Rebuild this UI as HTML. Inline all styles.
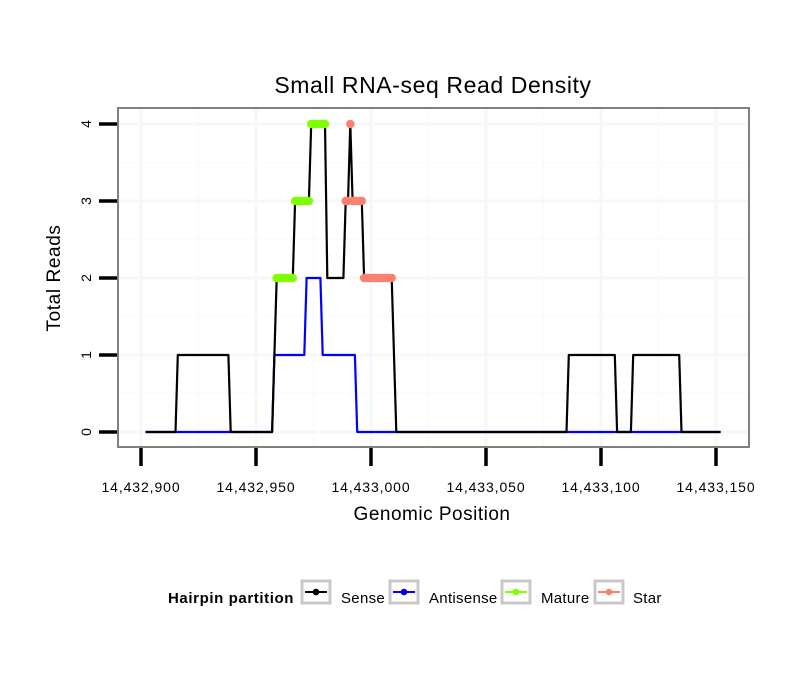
<!DOCTYPE html>
<html><head><meta charset="utf-8"><style>
body{margin:0;background:#fff;}
svg text{font-family:"Liberation Sans",sans-serif;}
</style></head><body>
<svg id="chart" width="810" height="690" xmlns="http://www.w3.org/2000/svg">
<rect width="810" height="690" fill="#fff"/>
<text x="433" y="93" font-size="23" letter-spacing="0.6" text-anchor="middle">Small RNA-seq Read Density</text>
<g id="grid"></g>
<g id="series"></g>
<rect x="118" y="108" width="631" height="339" fill="none" stroke="#808080" stroke-width="2"/>
<g id="axes"></g>
<text x="432" y="520" font-size="19" letter-spacing="0.5" text-anchor="middle">Genomic Position</text>
<text transform="translate(60,278) rotate(-90)" font-size="19" letter-spacing="0.6" text-anchor="middle">Total Reads</text>
<g>
<text x="168" y="603" font-size="15" font-weight="bold" letter-spacing="0.6">Hairpin partition</text>
<g id="legend-items"></g>
</g>
</svg>
<script>
const xTicks=[14432900,14432950,14433000,14433050,14433100,14433150];
const yTicks=[0,1,2,3,4];
const sensePos=[14432902,14432915,14432916,14432938,14432939,14432957,14432959,14432966,14432967,14432973,14432974,14432980,14432981,14432988,14432989,14432990,14432991,14432992,14432996,14432997,14433009,14433011,14433085,14433086,14433106,14433107,14433113,14433114,14433134,14433135,14433152];
const senseVal=[0,0,1,1,0,0,2,2,3,3,4,4,2,2,3,3,4,3,3,2,2,0,0,1,1,0,0,1,1,0,0];
const antiPos=[14432902,14432957,14432958,14432971,14432972,14432978,14432979,14432993,14432994,14433152];
const antiVal=[0,0,1,1,2,2,1,1,0,0];
const maturePos=[14432959,14432960,14432961,14432962,14432963,14432964,14432965,14432966,14432967,14432968,14432969,14432970,14432971,14432972,14432973,14432974,14432975,14432976,14432977,14432978,14432979,14432980];
const matureVal=[2,2,2,2,2,2,2,2,3,3,3,3,3,3,3,4,4,4,4,4,4,4];
const starPos=[14432989,14432990,14432991,14432992,14432993,14432994,14432995,14432996,14432997,14432998,14432999,14433000,14433001,14433002,14433003,14433004,14433005,14433006,14433007,14433008,14433009];
const starVal=[3,3,4,3,3,3,3,3,2,2,2,2,2,2,2,2,2,2,2,2,2];
const legendLabels=["Sense","Antisense","Mature","Star"];
const legendColors=["#000000","#0000ff","#7fff00","#fa8072"];

const NS="http://www.w3.org/2000/svg";
const X=v=>141+(v-14432900)*2.3;
const Y=v=>432-v*77;
function mk(tag,attrs,parent){const e=document.createElementNS(NS,tag);for(const k in attrs)e.setAttribute(k,attrs[k]);parent.appendChild(e);return e;}
const grid=document.getElementById('grid'),axes=document.getElementById('axes'),series=document.getElementById('series');
for(let i=0;i<xTicks.length-1;i++){const m=(xTicks[i]+xTicks[i+1])/2;const l=mk('line',{x1:X(m),x2:X(m),y1:109,y2:446,stroke:'#fbfbfb','stroke-width':1.5},grid);
}
for(let i=0;i<yTicks.length-1;i++){const m=(yTicks[i]+yTicks[i+1])/2;const l=mk('line',{x1:119,x2:748,y1:Y(m),y2:Y(m),stroke:'#fbfbfb','stroke-width':1.5},grid);
}
xTicks.forEach(t=>{const l=mk('line',{x1:X(t),x2:X(t),y1:109,y2:446,stroke:'#f7f7f7','stroke-width':3},grid);

const tk=mk('line',{x1:X(t),x2:X(t),y1:448,y2:466,stroke:'#000','stroke-width':3.5},axes);

const tx=mk('text',{x:X(t),y:492,'font-size':14,'letter-spacing':0.9,'text-anchor':'middle'},axes);tx.textContent=t.toLocaleString('en-US');
});
yTicks.forEach(t=>{const l=mk('line',{x1:119,x2:748,y1:Y(t),y2:Y(t),stroke:'#f7f7f7','stroke-width':3},grid);

const tk=mk('line',{x1:99,x2:117,y1:Y(t),y2:Y(t),stroke:'#000','stroke-width':3.5},axes);

const tx=mk('text',{transform:`translate(91,${Y(t)}) rotate(-90)`,'font-size':14,'text-anchor':'middle'},axes);tx.textContent=t;
});
function line(pos,val,color,name){const p=mk('polyline',{points:pos.map((v,i)=>X(v)+','+Y(val[i])).join(' '),fill:'none',stroke:color,'stroke-width':2.2,'stroke-linejoin':'round'},series);
}
line(antiPos,antiVal,'#0000ff','antisense-line');
line(sensePos,senseVal,'#000','sense-line');
function pts(pos,val,color,name){pos.forEach((v,i)=>{const c=mk('circle',{cx:X(v),cy:Y(val[i]),r:4.2,fill:color},series);
});}
pts(maturePos,matureVal,'#7fff00','mature-point');
pts(starPos,starVal,'#fa8072','star-point');
const li=document.getElementById('legend-items');
const boxX=[313,401,513,606],txtX=[341,429,541,633];
legendLabels.forEach((lab,i)=>{const g=mk('g',{},li);

mk('rect',{x:boxX[i]-11,y:581,width:28,height:22,fill:'#fff',stroke:'#c8c8c8','stroke-width':3},g);
mk('line',{x1:boxX[i]-8,x2:boxX[i]+14,y1:592,y2:592,stroke:legendColors[i],'stroke-width':2},g);
mk('circle',{cx:boxX[i]+3,cy:592,r:3.3,fill:legendColors[i]},g);
const t=mk('text',{x:txtX[i],y:603,'font-size':15,'letter-spacing':0.3},g);t.textContent=lab;});
</script>
</body></html>
